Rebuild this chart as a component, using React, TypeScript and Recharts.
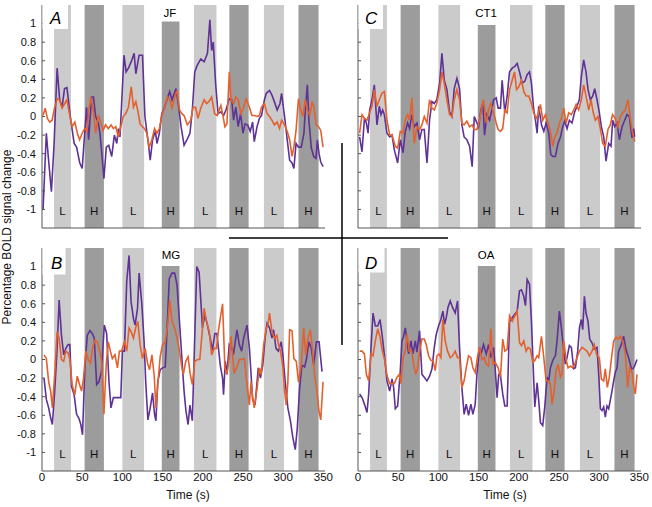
import React from 'react';
import { LineChart, Line, XAxis, YAxis, ReferenceArea } from 'recharts';

const FONT = '"Liberation Sans", Arial, Helvetica, sans-serif';

const blockStarts = [15, 53, 100, 149, 189, 233, 276, 319];
const blockEnds = [36, 77, 127, 171, 217, 257, 301, 344];
const blockKinds = ['L', 'H', 'L', 'H', 'L', 'H', 'L', 'H'];
const timeTicks = [0, 50, 100, 150, 200, 250, 300, 350];
const valueTicks = [-1, -0.8, -0.6, -0.4, -0.2, 0, 0.2, 0.4, 0.6, 0.8, 1];

type P = [number, number];

const jfPurple: P[] = [[1.3,-1.0],[5.4,-0.18],[8,-0.45],[11.7,-0.81],[15,-0.3],[18.8,0.52],[22,0.18],[25,0.1],[28,0.3],[31,0.31],[35.8,-0.04],[40,-0.29],[43,-0.33],[47,-0.5],[50,-0.56],[55.4,0.1],[58,-0.25],[61.7,0.21],[64,0.21],[66.7,0],[70,-0.07],[72,-0.18],[74,-0.36],[77,-0.67],[80,-0.33],[83,-0.31],[86.7,-0.43],[90,-0.2],[93,-0.29],[95,-0.13],[97,-0.22],[102,0.66],[104.6,0.48],[107.5,0.52],[111,0.59],[114.6,0.68],[116.7,0.46],[120.8,0.66],[125,0.66],[128,0],[131.7,-0.25],[134.6,-0.47],[137.5,-0.25],[141,-0.16],[143,-0.29],[146,-0.18],[149,0.03],[152.5,0.1],[155.4,0.18],[158.8,0.27],[161.7,0.18],[166.7,0.3],[170,0.1],[173,-0.11],[176.7,-0.31],[180.8,-0.24],[184,-0.18],[187,0.07],[190,0.48],[193,0.55],[197.5,0.62],[201.7,0.59],[205.8,0.68],[208.8,1.04],[211,0.71],[213,0.8],[216,0.35],[219,0.03],[222.5,0.05],[225.8,0.01],[228.8,0.07],[233,0.19],[236,0.18],[238.3,-0.04],[241,0.1],[244,-0.11],[247,0.03],[250,-0.18],[252.5,-0.08],[255.8,-0.09],[259,-0.16],[262,-0.06],[264,-0.27],[267.5,-0.11],[270.4,-0.02],[273,0.01],[276.7,0.18],[279,0.25],[283,0.28],[286,0.23],[289,0.16],[292.5,0.07],[296,0.14],[298,0.25],[301.7,0],[305,-0.25],[308,-0.47],[311,-0.5],[313.3,-0.56],[316,-0.29],[319,-0.33],[322.5,-0.33],[325.8,-0.18],[327.5,0.07],[330,0.34],[332,-0.04],[335,-0.34],[338,-0.43],[340.8,-0.45],[342.5,-0.25],[344.6,-0.4],[346.7,-0.49],[349.6,-0.54]];

const jfOrange: P[] = [[1.3,0.01],[4,0.09],[6.7,-0.02],[9.6,-0.06],[12.5,-0.04],[15.8,0.1],[19,0.19],[22,0.18],[25,0.09],[28.3,0.14],[31,0.18],[34.6,0.01],[37.5,-0.11],[40.8,-0.06],[44,-0.18],[46.7,-0.25],[50,-0.18],[53,-0.13],[56,-0.16],[58,0.05],[60.8,0.21],[63.8,0.07],[66.7,-0.18],[70,0.01],[73,-0.06],[76,-0.15],[79,-0.09],[82.5,-0.13],[86,-0.09],[88.8,-0.13],[91.7,-0.11],[95,-0.22],[98,-0.11],[101,0],[104,0.03],[107.5,0.1],[111,0.32],[113.8,0.1],[116.7,0.16],[119,0.07],[122,-0.08],[125,-0.11],[127.5,-0.13],[130.4,-0.18],[133.3,-0.33],[136.7,-0.25],[140,-0.13],[143,-0.18],[146,-0.13],[149,0.01],[152.5,0.09],[155.8,0.21],[158.8,0.18],[161.7,0.09],[165,0.21],[168,0.28],[171,0.07],[174,0.03],[176.7,0.01],[180.8,-0.09],[185,-0.04],[188,0.1],[191,0.1],[194,-0.02],[197.5,0.09],[201.7,0.18],[204.6,0.14],[207.5,0.16],[211,0.21],[214.6,0.03],[218,0.01],[220.4,0.07],[222.5,0.12],[224.6,0.03],[227.5,-0.11],[230,-0.08],[233,0.48],[235,0.18],[238.3,0.14],[241,0.21],[244,0.18],[247.5,0.03],[250.8,0.1],[254,0.19],[258,0.1],[261,0.01],[264,0.01],[267.5,0],[270.4,0.01],[273,0.1],[276.7,0.14],[280,0.03],[283,0],[286,-0.04],[289,-0.09],[292.5,-0.06],[295.4,-0.13],[298,-0.04],[301.7,-0.09],[305,-0.16],[308,-0.25],[311,-0.43],[313.3,-0.33],[316,-0.15],[319,0.19],[321.7,0.07],[324.6,0],[327.5,0.18],[330,0.07],[333,0.01],[336,0.16],[338.3,0.1],[341,-0.09],[344,-0.11],[346.7,-0.15],[349.6,-0.33]];

const mgPurple: P[] = [[2.5,-0.2],[5.4,-0.43],[8.3,-0.52],[10.8,-0.63],[12.9,-0.7],[15.8,-0.34],[18.8,0.12],[21.3,0.64],[24.2,0.26],[27,0.05],[29.6,0.12],[32.5,0.16],[34.6,0.16],[36.7,-0.29],[40,-0.38],[43,-0.59],[45.8,-0.63],[48.3,-0.7],[50.4,-0.81],[53.3,-0.09],[56.3,0.26],[59.6,0.31],[62.5,0.28],[65,0.23],[68,-0.27],[70.8,-0.24],[74,-0.13],[77.5,0.37],[80.4,0.28],[83.3,-0.24],[85.8,-0.52],[88.8,-0.41],[91.7,-0.41],[95,-0.41],[98,-0.41],[100,0.09],[102.5,0.09],[105.4,0.84],[108.3,1.12],[110.8,0.62],[113.8,0.44],[115.8,0.37],[118.8,0.55],[120.8,0.93],[124.2,0.59],[127,0.19],[129,-0.24],[131.7,-0.65],[134.6,-0.52],[137.5,-0.36],[140,-0.59],[141.7,-0.66],[144,-0.24],[147,-0.11],[150,-0.09],[153.3,-0.08],[155.4,0.3],[158.3,0.87],[161.7,0.93],[165,0.93],[168,0.8],[171,0.41],[174,0.01],[176.7,-0.34],[179,-0.55],[181.7,-0.7],[184,-0.49],[187,-0.66],[192.5,1.0],[195.4,0.94],[199.6,0.34],[202.5,0.48],[205.8,0.37],[209.2,0.23],[212,0.1],[215,0.28],[217.5,0.28],[221.7,-0.06],[224.6,-0.2],[225.8,-0.38],[228,-0.02],[230,-0.16],[232.9,0.16],[236,0.12],[238.3,0.07],[242.5,0.32],[245.4,0.16],[248.3,0.09],[250.8,0.23],[255,0.37],[258,0.12],[260,-0.16],[262,-0.43],[265,-0.49],[269,-0.09],[271.7,-0.2],[274.6,-0.06],[277.5,0.23],[280,0.39],[283,0.34],[286,0.23],[288,0.32],[291,0.12],[294,0.09],[297.5,0.19],[299.6,0.05],[302.5,-0.24],[305.8,-0.52],[309,-0.66],[312,-0.84],[315,-0.97],[317.5,-0.74],[320.4,-0.31],[323.3,-0.06],[326.7,-0.08],[329,0.01],[332,0.19],[335,0.12],[338,-0.06],[341.3,0.19],[344.6,0.19],[348.3,-0.13]];

const mgOrange: P[] = [[2.5,0.05],[5.4,0.01],[8.3,-0.24],[10.8,-0.34],[12.9,-0.52],[15.8,-0.16],[18.8,0.3],[21.3,0.23],[24.2,0],[27,-0.02],[29.6,0.09],[32.5,0.07],[34.6,0],[37.5,-0.27],[40.8,-0.38],[43.8,-0.18],[46.7,-0.27],[49.2,-0.34],[51.7,-0.2],[54.6,0.09],[57.5,0],[60.4,-0.04],[62.9,0.12],[65.8,0.21],[68.8,0.19],[71.7,0.09],[74.2,-0.02],[77,-0.59],[80,-0.04],[82.5,0.19],[85,0.09],[87.5,0.01],[90.8,0.05],[93.8,-0.09],[96.3,0.09],[99,0.09],[102.5,0.19],[105.4,0.09],[108.3,0.34],[110.8,0.3],[113.8,0.23],[116.7,0.35],[119.2,0.41],[122,0.16],[125,0.01],[128.3,0.12],[131.3,-0.04],[133.8,-0.11],[136.7,0.05],[139.6,-0.18],[141.7,-0.52],[144,-0.27],[147,0.03],[150,0.16],[153.3,0.19],[156.3,0.37],[158.8,0.64],[161.7,0.41],[165,0.34],[168,0.23],[171,0.09],[174,-0.09],[175.8,-0.16],[178.8,-0.02],[181.7,0.03],[184.2,-0.15],[187,-0.27],[190,-0.02],[193.3,0],[196.3,0],[198.8,0.25],[201.7,0.55],[204.6,0.41],[208,0.3],[211,0.05],[214.2,0.12],[217,0.12],[219.6,0.32],[221.7,0.44],[224.6,0.6],[227.5,-0.09],[230,-0.16],[232.9,0.01],[235,0.25],[237,0.05],[239,-0.15],[242.5,-0.08],[245.4,0],[248.3,0],[251.7,0.01],[255,-0.27],[257.9,-0.49],[260,-0.24],[262,-0.41],[264,-0.52],[267.5,-0.31],[270.4,-0.09],[272.5,-0.16],[275.8,0.16],[279,0.34],[281,0.37],[283,0.5],[286,0.3],[289,0.23],[292,0.26],[294,0.17],[296.7,0.09],[299.6,-0.08],[301.7,-0.34],[303.8,-0.49],[305.8,-0.24],[308,0.32],[311,0.31],[313.3,0.01],[316.3,-0.02],[319,-0.24],[322.5,-0.06],[325.4,0.34],[328,0.05],[330.8,0.23],[333.8,0.32],[336.3,0.12],[339,-0.16],[342,-0.34],[344.6,-0.56],[346.7,-0.65],[349.6,-0.24]];

const ct1Purple: P[] = [[2,-0.22],[5,-0.38],[8,-0.02],[10.4,-0.07],[12.5,-0.18],[14.5,0.07],[17.4,0.18],[20.3,0.34],[23.6,-0.09],[26.5,0.11],[28.6,0.02],[30.7,0.07],[32.8,0.02],[36,-0.18],[39.4,-0.22],[42.3,-0.2],[45.2,-0.36],[49.3,-0.5],[52.6,-0.25],[56,-0.39],[58.8,-0.16],[61.7,-0.07],[64.2,-0.13],[67,0.02],[70,-0.11],[73.3,-0.07],[76.6,-0.25],[79.5,-0.14],[82.4,-0.14],[85.8,-0.5],[89,-0.04],[92,0.16],[94.9,0.14],[98,0.18],[101.5,0.36],[104.4,0.68],[107.3,0.39],[110.6,0.29],[113.9,0.05],[116.8,0],[119.7,0.3],[123,0.41],[126.3,0.3],[129.2,-0.09],[132,-0.22],[135.4,-0.25],[138.8,-0.32],[142,-0.54],[144.6,0],[147,-0.05],[150,-0.11],[152.8,0.07],[155.3,0.14],[157.4,-0.2],[160.3,0.02],[163.6,-0.04],[166.5,0.07],[168.6,0.18],[171.9,0.2],[174.3,0.09],[177.2,0.09],[179.3,0.39],[182.6,0.04],[185.5,0.22],[188.5,0.48],[191.8,0.52],[195.1,0.54],[198,0.57],[200.9,0.48],[204.2,0.36],[207.5,0.38],[210.4,0.45],[213.3,0.48],[215.7,0.36],[218.6,0.07],[220.7,-0.04],[222.8,-0.18],[224.8,0.11],[228.2,-0.09],[231.1,-0.16],[234,-0.07],[237.3,-0.18],[239.8,-0.41],[242.3,-0.43],[245.5,-0.43],[248.8,-0.29],[251.8,-0.22],[254.6,-0.11],[257.1,-0.05],[260,-0.13],[262.9,-0.04],[266.2,-0.07],[269.5,0.05],[272.4,0.11],[275.3,0.18],[277.8,0.43],[280.7,0.61],[283.6,0.48],[286.1,0.29],[289,0.18],[291.9,0.22],[294.4,0.3],[297.3,0.18],[300.2,0.04],[302.7,-0.11],[305.6,-0.22],[308.5,-0.48],[311.8,-0.29],[314.7,-0.32],[316.8,-0.04],[319.3,-0.11],[322.2,-0.07],[325.1,-0.25],[328.4,-0.11],[331.7,-0.04],[334.6,0.02],[337.5,0],[340.8,-0.23],[342.9,-0.13],[344.1,-0.22]];

const ct1Orange: P[] = [[2,-0.18],[5,0.02],[8,-0.02],[11.2,-0.04],[14.5,0.04],[17.4,0.11],[20.3,0.29],[23.6,0.11],[26.5,0.18],[29.8,0.25],[32.8,0.27],[36,-0.04],[39.4,-0.2],[42.3,-0.2],[46.4,-0.32],[49.3,-0.34],[52.6,-0.16],[56,-0.18],[58.8,-0.04],[61.7,0.02],[64.2,-0.04],[67,0.2],[70,-0.29],[73.3,-0.11],[76.6,-0.14],[79.5,-0.09],[82.4,0],[85.8,-0.07],[89,0.18],[92,0.09],[94.9,0.07],[98,0.14],[101.5,0.29],[104.4,0.48],[107.3,0.36],[110.6,0.18],[113.9,0.02],[116.8,0],[119.7,0.18],[123,0.29],[126.3,0.18],[129.2,-0.07],[132,-0.09],[135.4,-0.05],[138.8,-0.11],[142,-0.09],[144.6,-0.14],[147.9,-0.14],[151.2,-0.04],[154.1,0.11],[156.1,0.18],[159.5,-0.07],[162.4,0.07],[165.3,0.14],[168.6,0.04],[171.9,-0.07],[174.3,-0.14],[177.2,-0.16],[180,-0.13],[182.6,0.07],[185.5,0.04],[188.5,0.29],[191.8,0.39],[194.7,0.48],[197.2,0.29],[200,0.32],[203.3,0.39],[206.2,0.27],[209.1,0.22],[212.4,0.22],[215.7,0.14],[218.6,0.04],[221.5,-0.02],[224,0.02],[226.9,0.13],[229.8,-0.04],[233.1,0.02],[236.4,-0.07],[239.3,-0.16],[242.3,-0.32],[244.7,-0.22],[247.6,-0.18],[250.5,-0.07],[253,-0.02],[255.9,0.09],[258.8,-0.07],[262.1,0.04],[265.4,0.02],[268.3,0.07],[271.3,0.13],[274.5,0.07],[277.8,0.18],[280.7,0.34],[283.6,0.22],[287,0.07],[289.8,0.18],[292.7,0.04],[295.2,-0.04],[298.5,0],[301.4,-0.13],[304.3,-0.29],[307.6,-0.32],[310.9,-0.14],[313.8,-0.09],[316.6,0.02],[320,-0.02],[323.3,-0.11],[326.3,0],[329.2,0.04],[332.5,0.07],[335.8,0.18],[338.3,0],[340.8,-0.14],[344.1,-0.27]];

const oaPurple: P[] = [[2,-0.37],[5,-0.41],[8,-0.48],[11.2,-0.57],[13.3,-0.37],[16.2,0.13],[18.7,0.5],[21.6,0.36],[24.5,0.36],[27.4,0.43],[30.3,0.24],[33.2,0.02],[36,-0.23],[39.4,-0.34],[42.3,-0.21],[44.3,-0.3],[46.4,-0.53],[49.3,-0.5],[52.6,-0.12],[54.7,0.2],[56.7,0.25],[58.9,0.34],[60.9,0.2],[63,0.06],[65.9,0.2],[68.4,0.06],[71.3,0.2],[73.3,0.08],[76.6,0.31],[79.5,-0.16],[82.4,-0.19],[85.8,-0.23],[89,-0.18],[92,-0.1],[94.9,0.13],[97.3,0.27],[100.2,0.36],[103.1,0.43],[105.6,0.52],[107.7,0.38],[109.8,0.45],[111.9,0.56],[114.7,0.63],[117.6,0.56],[120.9,0.5],[123.8,0.63],[126.3,0.13],[129.2,-0.3],[132,-0.59],[134.6,-0.48],[137.5,-0.6],[140.4,-0.48],[142.9,-0.59],[145.8,-0.48],[147.9,-0.16],[151.2,0.13],[153.2,0.06],[156.1,0.16],[159.5,0.06],[162.4,0.16],[165.3,0.02],[168.6,0.13],[170.6,-0.09],[173,-0.41],[175,-0.16],[177,-0.16],[180,-0.37],[182.6,-0.5],[185.5,-0.5],[188.5,0.41],[191.8,0.45],[195.1,0.49],[198,0.52],[200.9,0.74],[203.3,0.75],[206.2,0.68],[208.3,0.58],[210.4,0.86],[213.3,0.81],[215.7,0.41],[217.8,-0.05],[219.9,-0.51],[222.8,-0.25],[224.8,-0.44],[226.9,-0.68],[229.8,-0.71],[232.3,-0.51],[235.2,-0.19],[237.3,-0.23],[239.3,-0.09],[242.3,-0.01],[245.5,0.04],[247.6,0.2],[250.5,0.52],[253,0.34],[255.9,0.09],[258,-0.05],[260,0.02],[262.9,0.15],[265.4,0.13],[268.3,-0.1],[270.4,-0.09],[273.3,0.09],[275.4,0.34],[277.8,0.43],[279.5,0.32],[281.6,0.68],[283.6,0.5],[286.1,0.41],[288.2,0.22],[291.1,0.18],[293.9,0.11],[297.3,0.13],[299.4,-0.16],[301.5,-0.53],[303.5,-0.55],[305.6,-0.51],[307.6,-0.62],[309.7,-0.5],[311.8,-0.53],[313.8,-0.44],[315.9,-0.34],[318,-0.23],[320,-0.14],[322.2,-0.09],[324.2,0.09],[327.5,0.16],[330.4,0.25],[333.3,0.11],[336.6,0.02],[340,-0.1],[342,-0.1],[344.1,-0.07],[347,0]];

const oaOrange: P[] = [[2,0.09],[5,0.09],[8,0.06],[10.4,-0.16],[13.3,-0.23],[16.2,0.06],[18.7,0.04],[21.6,0.2],[24.5,0.33],[27.4,0.24],[30.3,0.09],[33.2,-0.01],[36,-0.17],[39.4,-0.26],[42.3,-0.26],[45.2,-0.26],[48.5,-0.19],[51.4,-0.16],[53.5,-0.26],[56,0.02],[58.9,0.09],[60.9,0.27],[63.8,0.09],[66.7,0.09],[69.2,-0.05],[71.7,-0.16],[74.2,-0.09],[76.6,0.09],[79.5,0.22],[82.4,0.22],[84.9,0.16],[87.8,0.04],[90.7,-0.01],[93.2,-0.01],[96.1,-0.12],[98.2,0.04],[100.7,0.06],[103.1,0.02],[105.6,0.43],[108.5,0.2],[111.4,0.09],[114.7,0.02],[117.6,0.04],[120.9,0.09],[123.8,0.02],[126.3,0.02],[129.2,-0.3],[132,-0.23],[134.6,-0.09],[137.5,0.04],[140.4,0.02],[142.9,-0.09],[145.8,-0.14],[148.8,0.04],[151.2,0.13],[154.1,0],[157,0.02],[159.5,-0.05],[162.4,-0.07],[165.3,0.33],[167.7,-0.05],[170.6,-0.03],[174.3,-0.09],[177.2,-0.19],[180,0.22],[182.6,0.09],[185.5,0.11],[188.5,0.47],[191.8,0.41],[195.1,0.47],[198,0.52],[200.9,0.18],[203.3,0.15],[206.2,0.2],[209.1,0.09],[211.6,0.13],[214.5,0.11],[217.4,-0.03],[219.9,-0.01],[222.8,0.04],[224.8,0.02],[228.2,0.25],[231.1,0.02],[234,-0.23],[236.4,-0.23],[239.3,-0.26],[241.4,-0.48],[243.9,-0.34],[246.4,-0.12],[248.8,-0.05],[251.8,-0.19],[253.8,-0.16],[255.9,0.2],[258.8,0],[261.3,-0.09],[264.2,-0.07],[267.1,-0.09],[269.5,-0.05],[272.4,0.02],[275.4,0.09],[278.7,0.13],[282,0.11],[284.9,0.09],[287.8,0.04],[291.1,0.09],[293.9,0.16],[297.3,0.04],[300.2,0.02],[302.7,-0.21],[305.6,-0.23],[307.6,-0.1],[310.1,-0.3],[312.6,-0.19],[315.1,0],[318,0.2],[320.9,0.24],[323.4,0.22],[326.3,0.25],[329.2,0.2],[332.5,0.06],[335.4,-0.3],[337.9,-0.09],[341,-0.14],[343,-0.3],[344.9,-0.37],[347,-0.16]];

const toRows = (s: P[]) => s.map(([t, v]) => ({ t, v }));

const PURPLE = '#5f3296';
const ORANGE = '#e3612f';
const AXIS = '#555';

function yTick(showLabel: boolean) {
  return (props: any) => {
    const { x, y, payload } = props;
    const label = String(Number(Number(payload.value).toFixed(1)));
    return (
      <g>
        <line x1={x + 6} x2={x + 9} y1={y} y2={y} stroke={AXIS} strokeWidth={1} />
        {showLabel && (
          <text x={x} y={y} dy="0.35em" textAnchor="end" fontSize={11} fill="#111" fontFamily={FONT}>
            {label}
          </text>
        )}
      </g>
    );
  };
}

function Panel({ left, top, height, purple, orange, yLabels, xLabels }: any) {
  return (
    <div style={{ position: 'absolute', left, top }}>
      <LineChart width={345} height={height} margin={{ top: 5, right: 20, bottom: 0, left: 0 }}>
        {blockStarts.map((s, i) => (
          <ReferenceArea
            key={s}
            x1={s}
            x2={blockEnds[i]}
            y1={-1.2}
            y2={1.2}
            fill={blockKinds[i] === 'L' ? '#cbcbcb' : '#9c9c9c'}
            fillOpacity={1}
            stroke="none"
            ifOverflow="hidden"
            label={{ value: blockKinds[i], position: 'insideBottom', offset: 13, fontSize: 11.5, fill: '#111', fontFamily: FONT }}
          />
        ))}
        <XAxis
          type="number"
          dataKey="t"
          domain={[0, 352]}
          ticks={timeTicks}
          interval={0}
          allowDataOverflow
          height={xLabels ? 32 : 4}
          tick={xLabels ? { fontSize: 11.5, fill: '#111', fontFamily: FONT } : false}
          tickLine={false}
          tickSize={0}
          tickMargin={2}
          axisLine={{ stroke: AXIS }}
        />
        <YAxis
          type="number"
          domain={[-1.2, 1.2]}
          ticks={valueTicks}
          interval={0}
          allowDataOverflow
          width={42}
          tickSize={0}
          tickMargin={6}
          tickLine={false}
          axisLine={{ stroke: AXIS }}
          tick={yTick(yLabels)}
        />
        <Line data={toRows(purple)} dataKey="v" type="linear" stroke={PURPLE} strokeWidth={1.6} dot={false} isAnimationActive={false} />
        <Line data={toRows(orange)} dataKey="v" type="linear" stroke={ORANGE} strokeWidth={1.6} dot={false} isAnimationActive={false} />
      </LineChart>
    </div>
  );
}

export default function App() {
  const letter = { fontSize: 17, fontStyle: 'italic', fontFamily: FONT, fill: '#000' } as any;
  const name = { fontSize: 11.5, fontFamily: FONT, fill: '#000', textAnchor: 'middle' } as any;
  return (
    <div style={{ position: 'absolute', left: 0, top: 0, width: 652, height: 507, background: '#fff', overflow: 'hidden' }}>
      <Panel left={316} top={0} height={232} purple={ct1Purple} orange={ct1Orange} yLabels={false} xLabels={false} />
      <Panel left={0} top={0} height={232} purple={jfPurple} orange={jfOrange} yLabels xLabels={false} />
      <Panel left={316} top={243} height={260} purple={oaPurple} orange={oaOrange} yLabels={false} xLabels />
      <Panel left={0} top={243} height={260} purple={mgPurple} orange={mgOrange} yLabels xLabels />
      <svg width={652} height={507} style={{ position: 'absolute', left: 0, top: 0, pointerEvents: 'none' }}>
        <rect x={42.5} y={5} width={25.5} height={24} fill="#fff" />
        <rect x={42.5} y={248} width={23} height={26.5} fill="#fff" />
        <rect x={358.5} y={5} width={24.5} height={24} fill="#fff" />
        <rect x={358.5} y={248} width={26} height={24.5} fill="#fff" />
        <rect x={158} y={5} width={24} height={16.5} fill="#fff" />
        <rect x={158} y={248} width={24} height={18} fill="#fff" />
        <rect x={473} y={5} width={26} height={20} fill="#fff" />
        <rect x={473} y={248} width={26} height={18} fill="#fff" />
        <text x={50} y={23.5} {...letter}>A</text>
        <text x={51} y={269} {...letter}>B</text>
        <text x={365} y={23.5} {...letter}>C</text>
        <text x={365} y={269} {...letter}>D</text>
        <text x={170} y={16.8} {...name}>JF</text>
        <text x={171} y={258.8} {...name}>MG</text>
        <text x={486} y={16.8} {...name}>CT1</text>
        <text x={486} y={258.8} {...name}>OA</text>
        <text x={188} y={499} fontSize={12} fontFamily={FONT} textAnchor="middle" fill="#111">Time (s)</text>
        <text x={505} y={499} fontSize={12} fontFamily={FONT} textAnchor="middle" fill="#111">Time (s)</text>
        <text x={0} y={0} fontSize={12} fontFamily={FONT} textAnchor="middle" fill="#111" transform="translate(11 237) rotate(-90)">Percentage BOLD signal change</text>
        <line x1={229} x2={448} y1={238} y2={238} stroke="#000" strokeWidth={1.5} />
        <line x1={342} x2={342} y1={143} y2={345} stroke="#000" strokeWidth={1.5} />
      </svg>
    </div>
  );
}
